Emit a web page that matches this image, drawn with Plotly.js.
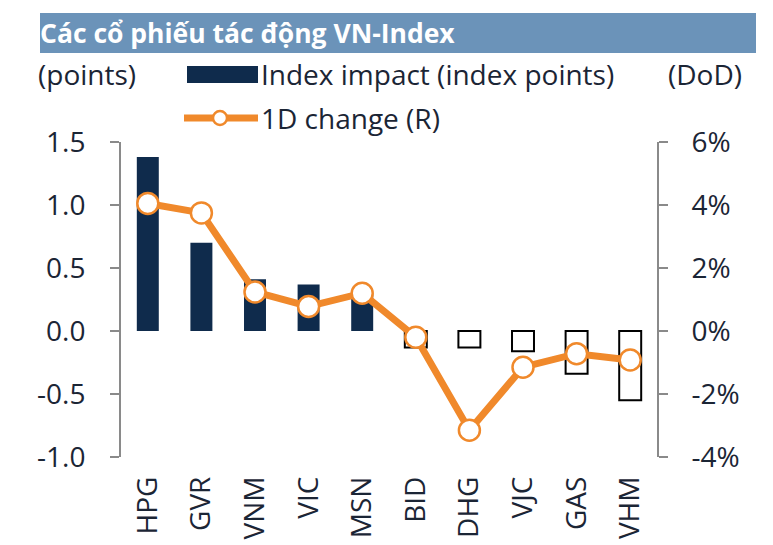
<!DOCTYPE html>
<html>
<head>
<meta charset="utf-8">
<script src="https://cdn.plot.ly/plotly-3.0.1.min.js"></script>
<style>html,body{margin:0;padding:0;background:#fff;}#chart{width:773px;height:545px;}</style>
</head>
<body>
<div id="chart"></div>
<script>
const categories = ["HPG","GVR","VNM","VIC","MSN","BID","DHG","VJC","GAS","VHM"];
const indexImpact = [1.38, 0.70, 0.41, 0.37, 0.30, -0.13, -0.13, -0.16, -0.34, -0.55];
const change1D = [4.05, 3.75, 1.24, 0.78, 1.2, -0.2, -3.15, -1.15, -0.72, -0.92];
const leftTicks = [-1.0, -0.5, 0.0, 0.5, 1.0, 1.5];
const leftTickText = ["-1.0", "-0.5", "0.0", "0.5", "1.0", "1.5"];
const rightTicks = [-4, -2, 0, 2, 4, 6];
const rightTickText = ["-4%", "-2%", "0%", "2%", "4%", "6%"];

const navy = '#0f2b4c';
const orange = '#f0892b';
const txt = '#1b2535';
const axisGray = '#8a8a8a';

const L = 121, R = 657, T = 142, B = 457;
const px = v => (v - L) / (R - L);
const py = v => (B - v) / (B - T);

const barColors = indexImpact.map(v => v >= 0 ? navy : '#ffffff');
const barLineColors = indexImpact.map(v => v >= 0 ? navy : '#000000');
const barLineWidths = indexImpact.map(v => v >= 0 ? 0 : 2);

const traces = [
  {
    type: 'bar', x: categories, y: indexImpact, yaxis: 'y', width: 0.41,
    marker: {color: barColors, line: {color: barLineColors, width: barLineWidths}},
    showlegend: false, hoverinfo: 'skip'
  },
  {
    type: 'scatter', mode: 'lines+markers', x: categories, y: change1D, yaxis: 'y2',
    line: {color: orange, width: 7},
    marker: {size: 21, color: '#ffffff', line: {color: orange, width: 2.5}},
    showlegend: false, hoverinfo: 'skip', cliponaxis: false
  }
];

const font = {family: '"Open Sans", "Noto Sans", sans-serif', size: 28, color: txt};

const layout = {
  width: 773, height: 545,
  margin: {l: L, r: 773 - R, t: T, b: 545 - B, pad: 0, autoexpand: false},
  paper_bgcolor: '#ffffff', plot_bgcolor: '#ffffff',
  font: font,
  showlegend: false,
  xaxis: {
    type: 'category', range: [-0.5, 9.5], tickangle: -90, ticks: '', showline: false, showgrid: false,
    zeroline: false, tickfont: font, ticklabelstandoff: 13, fixedrange: true, automargin: false
  },
  yaxis: {
    range: [-1, 1.5], tickvals: leftTicks, ticktext: leftTickText, ticks: 'outside', ticklen: 9,
    tickwidth: 2, tickcolor: axisGray, showline: true, linecolor: axisGray, linewidth: 2,
    showgrid: false, zeroline: false, tickfont: font, ticklabelstandoff: 19, fixedrange: true, automargin: false
  },
  yaxis2: {
    overlaying: 'y', side: 'right', range: [-4, 6], tickvals: rightTicks, ticktext: rightTickText,
    ticks: 'outside', ticklen: 9, tickwidth: 2, tickcolor: axisGray, showline: true,
    linecolor: axisGray, linewidth: 2, showgrid: false, zeroline: false, tickfont: font,
    ticklabelstandoff: 18, fixedrange: true, automargin: false
  },
  shapes: [
    {type: 'rect', xref: 'paper', yref: 'paper', x0: px(40), x1: px(756), y0: py(53), y1: py(13),
     fillcolor: '#6b93b9', line: {width: 0}, layer: 'below'},
    {type: 'rect', xref: 'paper', yref: 'paper', x0: px(187), x1: px(258), y0: py(83), y1: py(66),
     fillcolor: navy, line: {width: 0}},
    {type: 'line', xref: 'paper', yref: 'paper', x0: px(184), x1: px(258), y0: py(118), y1: py(118),
     line: {color: orange, width: 7}},
    {type: 'circle', xref: 'paper', yref: 'paper', x0: px(213), x1: px(227), y0: py(125), y1: py(111),
     fillcolor: '#ffffff', line: {color: orange, width: 2.5}}
  ],
  annotations: [
    {xref: 'paper', yref: 'paper', x: px(38), y: py(33), xanchor: 'left', yanchor: 'middle',
     text: '<b>Các cổ phiếu tác động VN-Index</b>', showarrow: false,
     font: {family: '"Open Sans", "Noto Sans", sans-serif', size: 26.5, color: '#ffffff'}},
    {xref: 'paper', yref: 'paper', x: px(36), y: py(74), xanchor: 'left', yanchor: 'middle',
     text: '(points)', showarrow: false, font: font},
    {xref: 'paper', yref: 'paper', x: px(744), y: py(74), xanchor: 'right', yanchor: 'middle',
     text: '(DoD)', showarrow: false, font: font},
    {xref: 'paper', yref: 'paper', x: px(259), y: py(74), xanchor: 'left', yanchor: 'middle',
     text: 'Index impact (index points)', showarrow: false, font: font},
    {xref: 'paper', yref: 'paper', x: px(259), y: py(118), xanchor: 'left', yanchor: 'middle',
     text: '1D change (R)', showarrow: false, font: font}
  ]
};

Plotly.newPlot('chart', traces, layout, {displayModeBar: false, staticPlot: true});
</script>
</body>
</html>
